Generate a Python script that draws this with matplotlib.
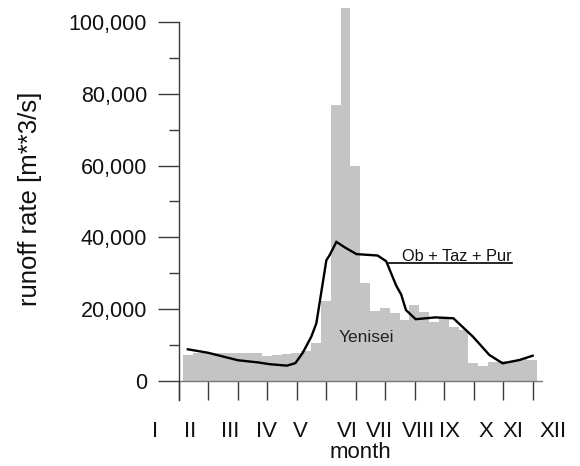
import matplotlib
matplotlib.use("Agg")
import matplotlib.pyplot as plt
import matplotlib.transforms as mtransforms
import numpy as np

plt.rcParams['font.family'] = ['Liberation Sans', 'DejaVu Sans']

# Yenisei runoff, 36 dekads (10-day periods), m**3/s
yenisei = [7200, 7800, 7800, 7800, 7800, 7800, 7700, 7600, 6900, 7200, 7500, 7800,
           8300, 10600, 22300, 77000, 104000, 60000, 27200, 19400, 20400, 18900, 17000, 21100,
           19200, 16500, 17500, 15000, 14000, 4900, 4200, 5300, 5400, 5500, 6000, 5800]

# Ob + Taz + Pur runoff (time in months, value in m**3/s)
ob_months = [0.30, 0.98, 2.00, 2.68, 3.08, 3.66, 3.95, 4.20, 4.49, 4.66, 5.00, 5.11,
             5.34, 5.62, 6.02, 6.74, 7.03, 7.37, 7.54, 7.70, 8.03, 8.70, 9.31, 9.97,
             10.53, 10.98, 11.55, 12.00]
ob_values = [8750, 7800, 5700, 5100, 4600, 4200, 4900, 7800, 12300, 16000, 33600, 35000,
             38700, 37200, 35300, 34900, 33300, 26500, 24000, 19700, 17150, 17650, 17400, 12300,
             7170, 4850, 5770, 6970]

month_labels = ['I', 'II', 'III', 'IV', 'V', 'VI', 'VII', 'VIII', 'IX', 'X', 'XI', 'XII']
month_label_pos = [-0.81, 0.38, 1.73, 2.97, 4.12, 5.70, 6.81, 8.14, 9.18, 10.40, 11.32, 12.70]

y_major = [0, 20000, 40000, 60000, 80000, 100000]
y_major_labels = ['0', '20,000', '40,000', '60,000', '80,000', '100,000']
y_minor = [10000, 30000, 50000, 70000, 90000]

fig = plt.figure(figsize=(5.8, 4.66), dpi=100)
fig.patch.set_facecolor('white')
ax = fig.add_axes([179/580, 1-400/466, (543-179)/580, (400-4.1)/466])

axis_col = '#3a3a3a'
bar_col = '#c4c4c4'

bar_start = 0.15
xb = bar_start + np.arange(len(yenisei)) / 3.0
ax.bar(xb, yenisei, width=1/3, align='edge', color=bar_col, edgecolor='none', zorder=1, clip_on=False)

ax.plot(ob_months, ob_values, color='black', lw=1.7, zorder=3, solid_joinstyle='miter')

ax.axhline(0, color='#777777', lw=1.0, zorder=2)

ax.set_xlim(0, 12.35)
ax.set_ylim(-5380, 105000)

for s in ['top', 'right', 'bottom']:
    ax.spines[s].set_visible(False)
ax.spines['left'].set_bounds(-5380, 100000)
ax.spines['left'].set_color(axis_col)
ax.spines['left'].set_linewidth(1.0)

ax.set_yticks(y_major, y_major_labels)
ax.set_yticks(y_minor, minor=True)
ax.tick_params(axis='y', which='major', length=15, width=1.0, color=axis_col, pad=8,
               labelsize=15.5, labelcolor='#111111')
ax.tick_params(axis='y', which='minor', length=7.5, width=1.0, color=axis_col)

ax.set_xticks(np.arange(0, 13))
ax.tick_params(axis='x', which='major', direction='in', length=14, width=1.0, color=axis_col,
               labelbottom=False)

trans = mtransforms.blended_transform_factory(ax.transData, ax.transAxes)
for lab, xp in zip(month_labels, month_label_pos):
    ax.text(xp, -0.053, lab, transform=trans, ha='center', va='top', fontsize=16,
            color='#111111', clip_on=False)

fig.text(360.7/580, 1-452.7/466, 'month', ha='center', va='center', fontsize=16, color='#111111')
fig.text(30/580, 1-199/466, 'runoff rate [m**3/s]', rotation=90, ha='center', va='center',
         fontsize=18.5, color='#111111')

ax.text(6.37, 12180, 'Yenisei', ha='center', va='center', fontsize=12.5, color='#222222', zorder=4)
ax.text(7.57, 33500, 'Ob + Taz + Pur', ha='left', va='baseline', fontsize=11.8, color='#111111', zorder=4)
ax.plot([7.11, 11.31], [32680, 32680], color='black', lw=1.2, zorder=4)

fig.savefig('out.png', dpi=100, facecolor='white')
